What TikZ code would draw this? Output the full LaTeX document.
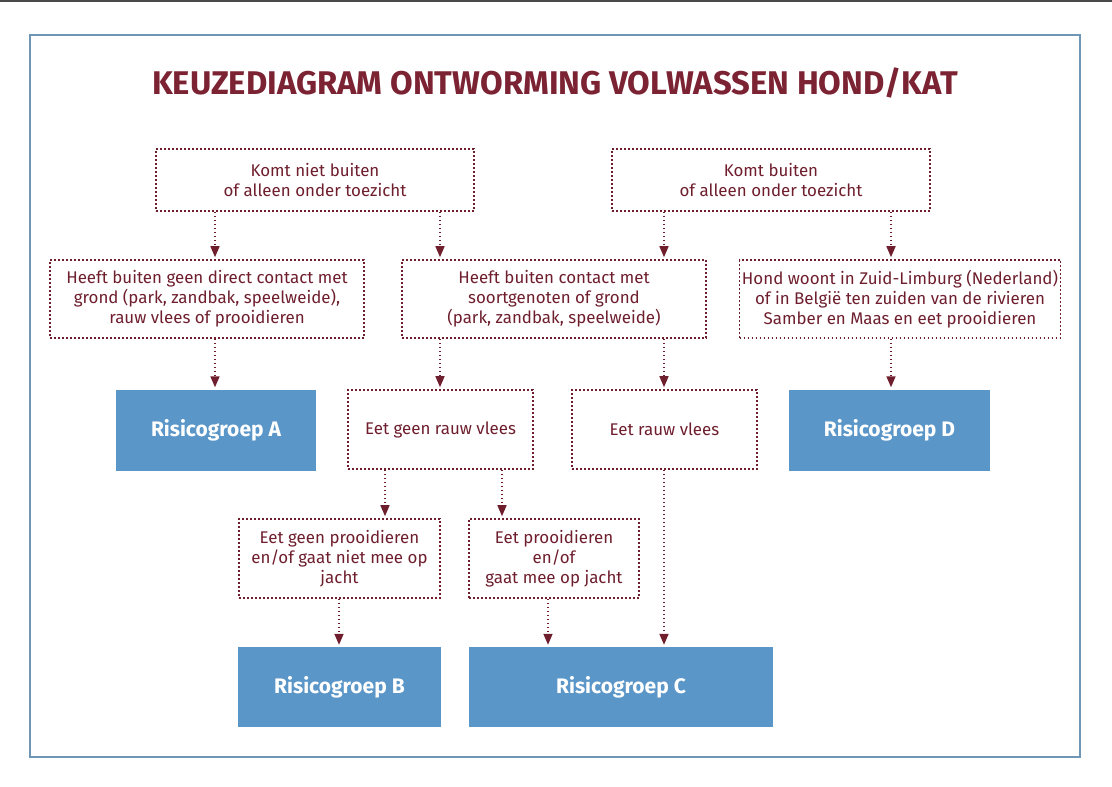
\documentclass[tikz,border=0pt]{standalone}
\usepackage{fontspec}
\setmainfont{Fira Sans}
\usetikzlibrary{arrows.meta}
\definecolor{maroon}{HTML}{6E1E2D}
\definecolor{titlecol}{HTML}{7B2233}
\definecolor{riskblue}{HTML}{5A96C8}
\definecolor{framecol}{HTML}{6F97B5}
\definecolor{topline}{HTML}{4A4A4A}
\tikzset{
  dbox/.style={draw=maroon, line width=1.6pt, dash pattern=on 1.6pt off 2.4pt, align=center, text=maroon, font=\fontsize{16.9}{20}\selectfont, inner sep=0pt},
  rbox/.style={fill=riskblue, text=white, font=\bfseries\fontsize{21}{24}\selectfont, inner sep=0pt},
  arr/.style={draw=maroon, line width=1.6pt, dash pattern=on 1.6pt off 2.4pt, -{Triangle[width=9pt,length=11pt]}, shorten >=2pt}
}
\begin{document}
\begin{tikzpicture}[x=1pt,y=-1pt]
\useasboundingbox (0,0) rectangle (1112,787);
\fill[topline] (0,0) rectangle (1112,2);
\draw[framecol, line width=2pt] (30,35) rectangle (1080,757);
\node[font=\bfseries\fontsize{32.8}{38}\selectfont, text=titlecol] (title) at (555,83) {KEUZEDIAGRAM ONTWORMING VOLWASSEN HOND/KAT};

\node[dbox, minimum width=318pt, minimum height=62pt] (k1) at (315,180) {Komt niet buiten\\of alleen onder toezicht};
\node[dbox, minimum width=318pt, minimum height=62pt] (k2) at (771,180) {Komt buiten\\of alleen onder toezicht};

\node[dbox, minimum width=314pt, minimum height=78pt] (h1) at (207,299) {Heeft buiten geen direct contact met\\grond (park, zandbak, speelweide),\\rauw vlees of prooidieren};
\node[dbox, minimum width=304pt, minimum height=78pt] (h2) at (554,299) {Heeft buiten contact met\\soortgenoten of grond\\(park, zandbak, speelweide)};
\node[dbox, minimum width=321pt, minimum height=78pt] (h3) at (900,299) {Hond woont in Zuid-Limburg (Nederland)\\of in België ten zuiden van de rivieren\\Samber en Maas en eet prooidieren};

\node[rbox, minimum width=200pt, minimum height=81pt] (ra) at (216,430) {Risicogroep A};
\node[dbox, minimum width=185pt, minimum height=79pt] (e1) at (440.5,429.5) {Eet geen rauw vlees};
\node[dbox, minimum width=185pt, minimum height=79pt] (e2) at (664.5,429.5) {Eet rauw vlees};
\node[rbox, minimum width=201pt, minimum height=81pt] (rd) at (889.5,430) {Risicogroep D};

\node[dbox, minimum width=201pt, minimum height=79pt] (p1) at (339.5,558.5) {Eet geen prooidieren\\en/of gaat niet mee op\\jacht};
\node[dbox, minimum width=170pt, minimum height=79pt] (p2) at (554,558.5) {Eet prooidieren\\en/of\\gaat mee op jacht};

\node[rbox, minimum width=203pt, minimum height=80pt] (rb) at (339.5,687) {Risicogroep B};
\node[rbox, minimum width=304pt, minimum height=80pt] (rc) at (621,687) {Risicogroep C};

\coordinate (xa) at (215,0);
\coordinate (xb) at (440,0);
\coordinate (xc) at (664,0);
\coordinate (xd) at (891,0);
\coordinate (xe) at (385,0);
\coordinate (xf) at (502,0);
\coordinate (xg) at (339,0);
\coordinate (xh) at (548,0);

\draw[arr] (k1.south -| xa) -- (h1.north -| xa);
\draw[arr] (k1.south -| xb) -- (h2.north -| xb);
\draw[arr] (k2.south -| xc) -- (h2.north -| xc);
\draw[arr] (k2.south -| xd) -- (h3.north -| xd);
\draw[arr] (h1.south -| xa) -- (ra.north -| xa);
\draw[arr] (h2.south -| xb) -- (e1.north -| xb);
\draw[arr] (h2.south -| xc) -- (e2.north -| xc);
\draw[arr] (h3.south -| xd) -- (rd.north -| xd);
\draw[arr] (e1.south -| xe) -- (p1.north -| xe);
\draw[arr] (e1.south -| xf) -- (p2.north -| xf);
\draw[arr] (p1.south -| xg) -- (rb.north -| xg);
\draw[arr] (p2.south -| xh) -- (rc.north -| xh);
\draw[arr] (e2.south -| xc) -- (rc.north -| xc);
\end{tikzpicture}
\end{document}
